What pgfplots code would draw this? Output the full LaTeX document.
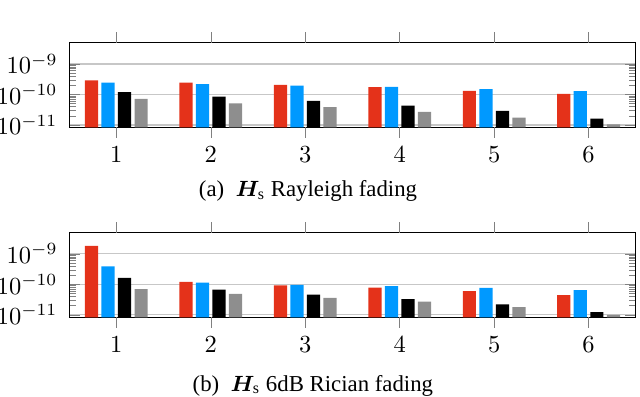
\documentclass[border=0pt]{standalone}
\usepackage{pgfplots}
\pgfplotsset{compat=1.18}
\usepackage{amsmath,bm}
\usepackage{fontspec}
\newfontfamily\capfont{Liberation Serif}

\definecolor{cred}{RGB}{228,50,26}
\definecolor{cblue}{RGB}{0,153,255}
\definecolor{cgray}{RGB}{142,142,142}

\begin{document}
\begin{tikzpicture}
\useasboundingbox (0,0) rectangle (261.2pt,162pt);

% (a) Rayleigh
\begin{axis}[
    at={(28.2pt,110pt)}, anchor=south west,
    scale only axis, width=231.3pt, height=34.5pt,
    ymode=log, log origin=infty,
    xmin=0.5, xmax=6.5, ymin=8.3e-12, ymax=4.9e-9,
    xtick=\empty,
    extra x ticks={1,2,3,4,5,6},
    extra x tick style={tick align=outside},
    ytick={1e-11,1e-10,1e-9},
    yticklabel style={xshift=-1.2pt},
    ymajorgrids, major grid style={black!22, line width=0.5pt},
    bar width=0.14,
]
\addplot[ybar, bar shift=-0.2625, fill=cred, draw=none] coordinates
  {(1,2.9e-10)(2,2.46e-10)(3,2.07e-10)(4,1.74e-10)(5,1.32e-10)(6,1.05e-10)};
\addplot[ybar, bar shift=-0.0875, fill=cblue, draw=none] coordinates
  {(1,2.46e-10)(2,2.18e-10)(3,1.96e-10)(4,1.78e-10)(5,1.5e-10)(6,1.29e-10)};
\addplot[ybar, bar shift=0.0875, fill=black, draw=none] coordinates
  {(1,1.2e-10)(2,8.4e-11)(3,6.1e-11)(4,4.3e-11)(5,2.9e-11)(6,1.6e-11)};
\addplot[ybar, bar shift=0.2625, fill=cgray, draw=none] coordinates
  {(1,7.2e-11)(2,5.1e-11)(3,3.8e-11)(4,2.7e-11)(5,1.74e-11)(6,1.05e-11)};
\end{axis}
\node[anchor=base, font=\capfont\fontsize{9.3}{11}\selectfont] at (125.7pt,81.7pt)
  {(a)\ \ $\boldsymbol{H}_{\text{s}}$ Rayleigh fading};

% (b) 6dB Rician
\begin{axis}[
    at={(28.2pt,32.5pt)}, anchor=south west,
    scale only axis, width=231.3pt, height=34.5pt,
    ymode=log, log origin=infty,
    xmin=0.5, xmax=6.5, ymin=8.3e-12, ymax=4.9e-9,
    xtick=\empty,
    extra x ticks={1,2,3,4,5,6},
    extra x tick style={tick align=outside},
    ytick={1e-11,1e-10,1e-9},
    yticklabel style={xshift=-1.2pt},
    ymajorgrids, major grid style={black!22, line width=0.5pt},
    bar width=0.14,
]
\addplot[ybar, bar shift=-0.2625, fill=cred, draw=none] coordinates
  {(1,1.83e-9)(2,1.2e-10)(3,9.3e-11)(4,7.8e-11)(5,6.0e-11)(6,4.4e-11)};
\addplot[ybar, bar shift=-0.0875, fill=cblue, draw=none] coordinates
  {(1,3.9e-10)(2,1.14e-10)(3,9.6e-11)(4,8.8e-11)(5,7.7e-11)(6,6.5e-11)};
\addplot[ybar, bar shift=0.0875, fill=black, draw=none] coordinates
  {(1,1.63e-10)(2,6.7e-11)(3,4.6e-11)(4,3.3e-11)(5,2.2e-11)(6,1.23e-11)};
\addplot[ybar, bar shift=0.2625, fill=cgray, draw=none] coordinates
  {(1,7.0e-11)(2,4.9e-11)(3,3.6e-11)(4,2.7e-11)(5,1.8e-11)(6,1.0e-11)};
\end{axis}
\node[anchor=base, font=\capfont\fontsize{9.3}{11}\selectfont] at (127.7pt,2.4pt)
  {(b)\ \ $\boldsymbol{H}_{\text{s}}$ 6dB Rician fading};
\end{tikzpicture}
\end{document}
